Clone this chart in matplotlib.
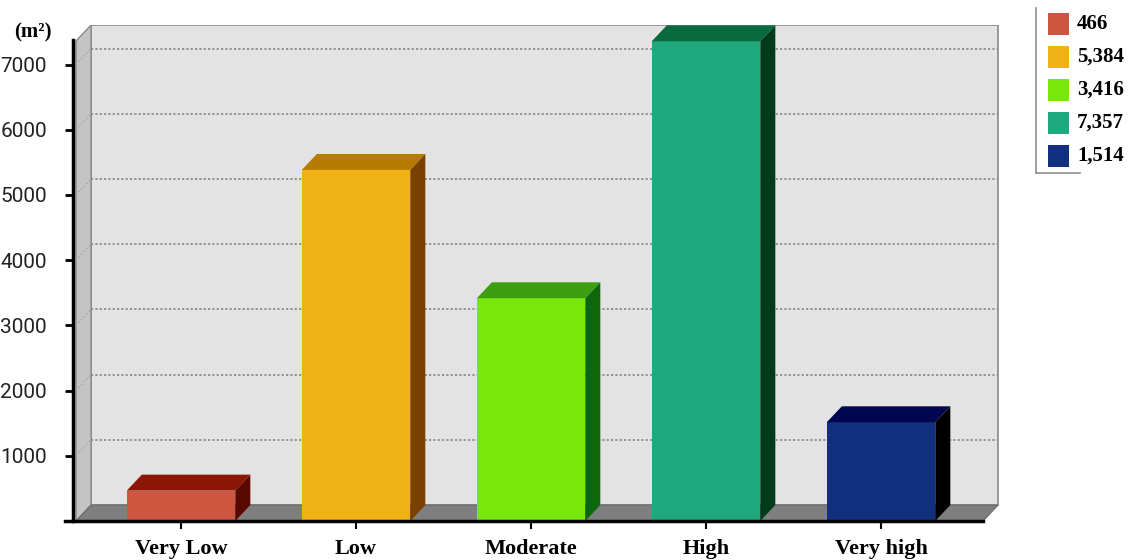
import numpy as np
import matplotlib.pyplot as plt
from matplotlib.patches import Polygon, Rectangle

# data
categories = ["Very Low", "Low", "Moderate", "High", "Very high"]
areas = [466, 5384, 3416, 7357, 1514]
front_cols = ["#cd5641", "#efb114", "#78e80c", "#1fa87d", "#10307f"]
top_cols = ["#8c1606", "#b57c00", "#3e9e12", "#0a6a3f", "#00074e"]
side_cols = ["#5a0800", "#7a4000", "#0d680c", "#003b1b", "#000000"]
yticks = [1000, 2000, 3000, 4000, 5000, 6000, 7000]

# 3d look: depth offset in data units
dx = 0.086
dy = 245
barw = 0.62
x0 = -0.60      # front left corner of the floor
xF = 4.583      # front right corner of the floor
ytop = 7607

fig = plt.figure(figsize=(11.47, 5.6), dpi=100)
ax = fig.add_axes([65/1147, 39/560, 938/1147, 496/560])
ax.set_xlim(-0.663, 4.697)
ax.set_ylim(0, ytop)

# back wall, left wall, floor
ax.add_patch(Polygon([(x0+dx, dy), (xF+dx, dy), (xF+dx, ytop), (x0+dx, ytop)],
                     closed=True, fc="#e3e3e3", ec="#8a8a8a", lw=1.2, zorder=0))
ax.add_patch(Polygon([(x0, 0), (x0+dx, dy), (x0+dx, ytop), (x0, ytop-dy)],
                     closed=True, fc="#c4c4c4", ec="#8a8a8a", lw=1.0, zorder=0))
ax.add_patch(Polygon([(x0, 0), (xF, 0), (xF+dx, dy), (x0+dx, dy)],
                     closed=True, fc="#7f7f7f", ec="#6a6a6a", lw=0.8, zorder=1))
for v in yticks:
    ax.plot([x0+dx, xF+dx], [v+dy, v+dy], color="#8c8c8c", lw=1.3,
            ls=(0, (1.2, 1.2)), zorder=1)
    ax.plot([x0, x0+dx], [v, v+dy], color="#a8a8a8", lw=1.0,
            ls=(0, (1.2, 1.5)), zorder=1)

# bars
xs = np.arange(len(categories))
ax.bar(xs, areas, width=barw, color=front_cols, zorder=3)
for x, v, tc, sc in zip(xs, areas, top_cols, side_cols):
    l, r = x - barw/2, x + barw/2
    ax.add_patch(Polygon([(l, v), (r, v), (r+dx, v+dy), (l+dx, v+dy)],
                         closed=True, fc=tc, ec="none", zorder=3))
    ax.add_patch(Polygon([(r, 0), (r+dx, dy), (r+dx, v+dy), (r, v)],
                         closed=True, fc=sc, ec="none", zorder=3))

# axes
for s in ["top", "right"]:
    ax.spines[s].set_visible(False)
ax.spines["left"].set_position(("data", x0 - 0.015))
ax.spines["left"].set_bounds(0, 7380)
ax.spines["left"].set_linewidth(2.5)
ax.spines["bottom"].set_bounds(-0.663, xF)
ax.spines["bottom"].set_linewidth(2.5)
ax.spines["left"].set_zorder(4)
ax.spines["bottom"].set_zorder(4)

ax.set_yticks(yticks)
ax.set_yticklabels([str(v) for v in yticks], fontsize=15, family="Roboto", color="#222222")
ax.tick_params(axis="y", direction="out", length=6, width=2, pad=13)
ax.set_xticks(xs)
ax.set_xticklabels(categories, fontsize=16, family="Liberation Serif", fontweight="bold")
ax.tick_params(axis="x", direction="out", length=6, width=1.5, pad=7)

fig.text(14/1147, 1 - 32/560, "(m²)", fontsize=15, family="Liberation Serif",
         fontweight="bold", va="center", ha="left")

# legend
fig.add_artist(plt.Line2D([1036/1147, 1036/1147], [1 - 8/560, 1 - 173/560],
                          color="#909090", lw=1.2))
fig.add_artist(plt.Line2D([1036/1147, 1080/1147], [1 - 173/560, 1 - 173/560],
                          color="#909090", lw=1.2))
for i, (v, c) in enumerate(zip(areas, front_cols)):
    yc = 24 + 33 * i
    fig.add_artist(Rectangle((1048/1147, 1 - (yc+11)/560), 21/1147, 22/560,
                             fc=c, ec="none"))
    fig.text(1077/1147, 1 - yc/560, f"{v:,}", fontsize=15, family="Liberation Serif",
             fontweight="bold", va="center", ha="left")

fig.savefig("out.png", dpi=100)
